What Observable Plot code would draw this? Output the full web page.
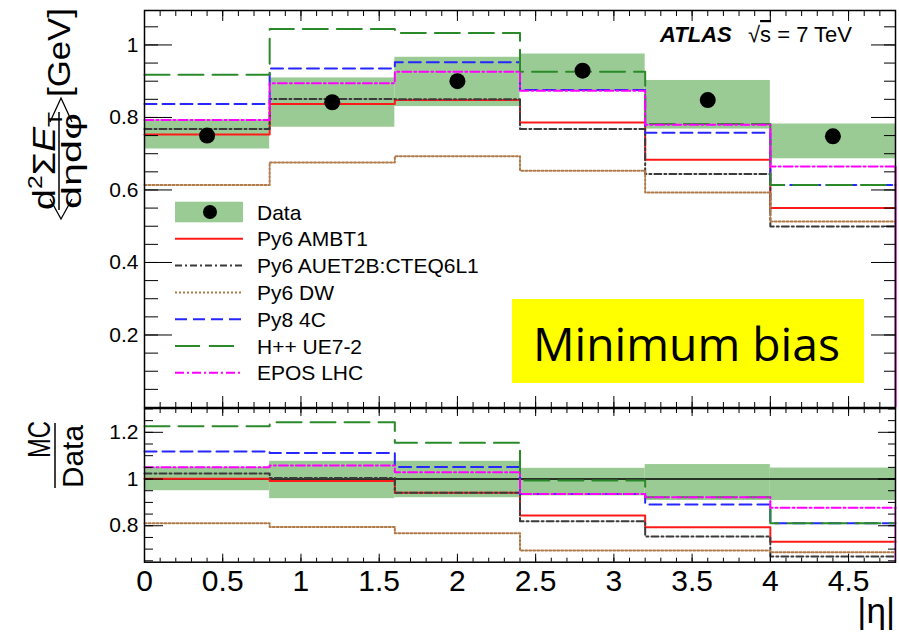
<!DOCTYPE html>
<html><head><meta charset="utf-8">
<script src="https://cdn.jsdelivr.net/npm/d3@7"></script>
<script src="https://cdn.jsdelivr.net/npm/@observablehq/plot@0.6"></script>
<style>
body{margin:0;background:#fff;}
#wrap{position:relative;width:899px;height:636px;overflow:hidden;font-family:"Liberation Sans",Arial,sans-serif;}
#wrap svg{position:absolute;left:0;overflow:visible;}
</style></head><body><div id="wrap"></div>
<script>
// ---- data ----
const edges = [0, 0.8, 1.6, 2.4, 3.2, 4.0, 4.8];
const centers = [0.4, 1.2, 2.0, 2.8, 3.6, 4.4];
const dataVal = [0.750, 0.842, 0.900, 0.929, 0.848, 0.748];
const dataLo  = [0.713, 0.773, 0.830, 0.874, 0.768, 0.686];
const dataHi  = [0.793, 0.909, 0.966, 0.975, 0.902, 0.782];

const seriesNames = ["Py6 AMBT1", "Py6 AUET2B:CTEQ6L1", "Py6 DW", "Py8 4C", "H++ UE7-2", "EPOS LHC"];
const mcAmbt1  = [0.753, 0.837, 0.848, 0.786, 0.683, 0.550];
const mcAuet2b = [0.768, 0.851, 0.850, 0.768, 0.644, 0.499];
const mcDw     = [0.614, 0.676, 0.693, 0.653, 0.593, 0.513];
const mcPy8    = [0.837, 0.935, 0.952, 0.876, 0.758, 0.614];
const mcHpp    = [0.918, 1.044, 1.033, 0.926, 0.782, 0.614];
const mcEpos   = [0.793, 0.894, 0.926, 0.874, 0.780, 0.665];

const ratioLo = [0.950, 0.916, 0.920, 0.928, 0.908, 0.908];
const ratioHi = [1.050, 1.076, 1.076, 1.046, 1.062, 1.047];
const rAmbt1  = [1.001, 0.992, 0.941, 0.844, 0.794, 0.732];
const rAuet2b = [1.024, 1.004, 0.941, 0.819, 0.754, 0.668];
const rDw     = [0.811, 0.795, 0.768, 0.694, 0.694, 0.687];
const rPy8    = [1.118, 1.111, 1.052, 0.936, 0.891, 0.811];
const rHpp    = [1.226, 1.243, 1.155, 0.994, 0.922, 0.811];
const rEpos   = [1.051, 1.058, 1.029, 0.936, 0.922, 0.877];

const xTickLabels = [0, 0.5, 1, 1.5, 2, 2.5, 3, 3.5, 4, 4.5];
const yTopTicks = [0.2, 0.4, 0.6, 0.8, 1];
const yRatioTicks = [0.8, 1, 1.2];

// ---- styles ----
const colors = ["#ff1a1a", "#3a3a3a", "#b07a48", "#2626ff", "#2a8a2a", "#ff00ff"];
const dashes = [null, "7,3,2,3", "2,2", "12,6", "25,9", "9,3,2,3"];
const bandColor = "#9bcb95";
const font = "Liberation Sans, Arial, Helvetica, sans-serif";

const topSeries = [mcAmbt1, mcAuet2b, mcDw, mcPy8, mcHpp, mcEpos];
const ratioSeries = [rAmbt1, rAuet2b, rDw, rPy8, rHpp, rEpos];

const stepRows = vals => edges.map((x, i) => ({x, y: vals[Math.min(i, vals.length - 1)]}));
const bins = (lo, hi) => centers.map((c, i) => ({x1: edges[i], x2: edges[i + 1], lo: lo[i], hi: hi[i]}));
const fmt = d => String(d);

const xMinor = d3.range(0, 49).map(i => i / 10);
const yTopMinor = d3.range(0, 22).map(i => +(i * 0.05).toFixed(2));
const yRatioMinor = d3.range(13, 27).map(i => +(i * 0.05).toFixed(2));

function lineMarks(seriesList) {
  return seriesList.map((vals, i) => Plot.line(stepRows(vals), {
    x: "x", y: "y", curve: "step-after", stroke: colors[i], strokeWidth: 2,
    strokeDasharray: dashes[i] || undefined
  }));
}

const wrap = document.getElementById("wrap");

// ---- top panel ----
const topPlot = Plot.plot({
  width: 899, height: 408,
  marginLeft: 144, marginRight: 4, marginTop: 10, marginBottom: 1,
  x: {domain: [0, 4.8], axis: null},
  y: {domain: [0, 1.095], axis: null},
  style: {fontFamily: font, color: "#000", background: "transparent", overflow: "visible"},
  marks: [
    Plot.rect(bins(dataLo, dataHi), {x1: "x1", x2: "x2", y1: "lo", y2: "hi", fill: bandColor}),
    ...lineMarks(topSeries),
    Plot.ruleX([{x: edges[6], y2: mcEpos[5]}], {x: "x", y1: 0, y2: "y2", stroke: colors[5], strokeWidth: 2}),
    Plot.dot(centers.map((c, i) => ({x: c, y: dataVal[i]})), {x: "x", y: "y", r: 8, fill: "#000"}),
    Plot.frame({stroke: "#000", strokeWidth: 1.5}),
    Plot.axisY(yTopMinor, {anchor: "left", tickSize: -14, fill: "none", label: null}),
    Plot.axisY(yTopTicks, {anchor: "left", tickSize: -28, fill: "none", label: null}),
    Plot.axisY(yTopMinor, {anchor: "right", tickSize: -12, fill: "none", label: null}),
    Plot.axisY(yTopTicks, {anchor: "right", tickSize: -25, fill: "none", label: null}),
    Plot.axisX(xMinor, {anchor: "top", tickSize: -5, fill: "none", label: null}),
    Plot.axisX(xTickLabels, {anchor: "top", tickSize: -10, fill: "none", label: null}),
    Plot.axisX(xMinor, {anchor: "bottom", tickSize: -5, fill: "none", label: null}),
    Plot.axisX(xTickLabels, {anchor: "bottom", tickSize: -11, fill: "none", label: null}),
    Plot.axisY(yTopTicks, {anchor: "left", tickSize: 0, tickPadding: 6, fontSize: 21, tickFormat: fmt, label: null})
  ]
});
topPlot.style.top = "0px";
wrap.appendChild(topPlot);

// ---- ratio panel ----
const botPlot = Plot.plot({
  width: 899, height: 229,
  marginLeft: 144, marginRight: 4, marginTop: 1, marginBottom: 74.3,
  x: {domain: [0, 4.8], axis: null},
  y: {domain: [0.644, 1.302], axis: null},
  style: {fontFamily: font, color: "#000", background: "transparent", overflow: "visible"},
  marks: [
    Plot.rect(bins(ratioLo, ratioHi), {x1: "x1", x2: "x2", y1: "lo", y2: "hi", fill: bandColor}),
    Plot.ruleY([1], {stroke: "#000", strokeWidth: 1.5}),
    ...lineMarks(ratioSeries),
    Plot.frame({stroke: "#000", strokeWidth: 1.5}),
    Plot.ruleX([{x: edges[6], y2: rEpos[5]}], {x: "x", y1: 0, y2: "y2", stroke: colors[5], strokeWidth: 2, clip: true}),
    Plot.axisY(yRatioMinor, {anchor: "left", tickSize: -9, fill: "none", label: null}),
    Plot.axisY(yRatioTicks, {anchor: "left", tickSize: -19, fill: "none", label: null}),
    Plot.axisY(yRatioMinor, {anchor: "right", tickSize: -8, fill: "none", label: null}),
    Plot.axisY(yRatioTicks, {anchor: "right", tickSize: -18, fill: "none", label: null}),
    Plot.axisX(xMinor, {anchor: "top", tickSize: -4, fill: "none", label: null}),
    Plot.axisX(xTickLabels, {anchor: "top", tickSize: -7, fill: "none", label: null}),
    Plot.axisX(xMinor, {anchor: "bottom", tickSize: -4, fill: "none", label: null}),
    Plot.axisX(xTickLabels, {anchor: "bottom", tickSize: -8, fill: "none", label: null}),
    Plot.axisY(yRatioTicks, {anchor: "left", tickSize: 0, tickPadding: 6, fontSize: 21, tickFormat: fmt, label: null}),
    Plot.axisX(xTickLabels, {anchor: "bottom", tickSize: 0, tickPadding: 7, fontSize: 30, tickFormat: fmt, label: null})
  ]
});
botPlot.style.top = "407px";
wrap.appendChild(botPlot);

// ---- overlay: titles, legend, annotations ----
const ov = d3.select(wrap).append("svg")
  .attr("width", 899).attr("height", 636).style("top", "0px")
  .attr("font-family", font);

// y-axis title (top panel)
const gl = ov.append("g").attr("transform", "translate(59,113) rotate(-90)");
gl.append("text").attr("x", 16).attr("y", 11).attr("font-size", 32)
  .attr("textLength", 89).attr("lengthAdjust", "spacingAndGlyphs").text("[GeV]");
const num = gl.append("text").attr("x", -97).attr("y", -4).attr("font-size", 32)
  .attr("textLength", 98).attr("lengthAdjust", "spacingAndGlyphs");
num.append("tspan").text("d");
num.append("tspan").attr("dy", -13).attr("font-size", 21).text("2");
num.append("tspan").attr("dy", 13).text("Σ");
num.append("tspan").attr("font-style", "italic").text("E");
num.append("tspan").attr("dy", 7).attr("font-size", 21).text("T");
gl.append("text").attr("x", -48).attr("y", 22).attr("font-size", 27).attr("text-anchor", "middle")
  .attr("textLength", 96).attr("lengthAdjust", "spacingAndGlyphs").text("dηdφ");
gl.append("line").attr("x1", -97).attr("x2", 1).attr("y1", 0).attr("y2", 0).attr("stroke", "#000").attr("stroke-width", 1.5);
// angle brackets
ov.append("polyline").attr("points", "50,122 61,98 72,122").attr("fill", "none").attr("stroke", "#000").attr("stroke-width", 1.3);
ov.append("polyline").attr("points", "50,199 61,219 72,199").attr("fill", "none").attr("stroke", "#000").attr("stroke-width", 1.3);

// ratio title
const gr = ov.append("g").attr("transform", "translate(55,455) rotate(-90)");
gr.append("text").attr("x", -3).attr("y", -5).attr("font-size", 31)
  .attr("textLength", 37).attr("lengthAdjust", "spacingAndGlyphs").text("MC");
gr.append("text").attr("x", -33).attr("y", 28).attr("font-size", 30)
  .attr("textLength", 63).attr("lengthAdjust", "spacingAndGlyphs").text("Data");
gr.append("line").attr("x1", -33).attr("x2", 32).attr("y1", 0).attr("y2", 0).attr("stroke", "#000").attr("stroke-width", 1.5);

// x-axis title
ov.append("text").attr("x", 895).attr("y", 623).attr("font-size", 35).attr("text-anchor", "end").text("|η|");

// ATLAS label
ov.append("text").attr("x", 660).attr("y", 42).attr("font-size", 22).attr("font-weight", "bold").attr("font-style", "italic").text("ATLAS");
const en = ov.append("text").attr("x", 748).attr("y", 42).attr("font-size", 22);
en.append("tspan").text("√");
en.append("tspan").style("text-decoration", "overline").text("s");
en.append("tspan").text(" = 7 TeV");

// legend
const legY = d3.range(7).map(i => 212 + i * 26.8);
ov.append("rect").attr("x", 175).attr("y", 201.7).attr("width", 68).attr("height", 20.6).attr("fill", bandColor);
ov.append("circle").attr("cx", 210).attr("cy", 212).attr("r", 7).attr("fill", "#000");
ov.append("text").attr("x", 257).attr("y", legY[0] + 7.5).attr("font-size", 21).text("Data");
seriesNames.forEach((name, i) => {
  const y = legY[i + 1];
  ov.append("line").attr("x1", 175).attr("x2", 243).attr("y1", y).attr("y2", y)
    .attr("stroke", colors[i]).attr("stroke-width", 2).attr("stroke-dasharray", dashes[i]);
  ov.append("text").attr("x", 257).attr("y", y + 7.5).attr("font-size", 21).text(name);
});

// yellow annotation box
ov.append("rect").attr("x", 512).attr("y", 299).attr("width", 352).attr("height", 84).attr("fill", "#ffff00");
ov.append("text").attr("x", 533).attr("y", 361).attr("font-size", 46).attr("font-family", "Open Sans, sans-serif")
  .attr("textLength", 307).attr("lengthAdjust", "spacingAndGlyphs").text("Minimum bias");
</script></body></html>
